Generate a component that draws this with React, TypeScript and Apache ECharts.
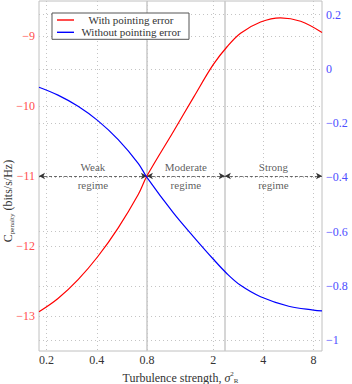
import { useEffect, useRef } from 'react';
import * as echarts from 'echarts';

const redSigma = [0.18, 0.234, 0.309, 0.406, 0.538, 0.711, 0.8, 1.157, 1.53, 2.0, 2.43, 2.92, 3.85, 5.07, 6.7, 9.0];
const redValues = [-12.94, -12.75, -12.48, -12.15, -11.74, -11.26, -11.0, -10.36, -9.87, -9.41, -9.15, -8.96, -8.8, -8.74, -8.79, -8.95];
const blueSigma = [0.18, 0.234, 0.309, 0.406, 0.538, 0.711, 0.8, 1.157, 1.53, 2.0, 2.43, 2.92, 3.85, 5.68, 8.0, 9.0];
const blueValues = [-0.068, -0.097, -0.138, -0.191, -0.261, -0.349, -0.4, -0.532, -0.62, -0.701, -0.756, -0.798, -0.84, -0.875, -0.889, -0.892];

const xTicks = [0.2, 0.4, 0.8, 2, 4, 8];
const leftTicks = [-13, -12, -11, -10, -9];
const rightTicks = [-1, -0.8, -0.6, -0.4, -0.2, 0, 0.2];
const regimeBounds = [0.18, 0.8, 2.35, 9];
const regimeNames = ['Weak', 'Moderate', 'Strong'];
const arrowLevel = -11;

const FONT = 'Liberation Serif';

const fmtNum = (v: number) => {
  const n = Number(v.toFixed(3));
  return (n < 0 ? '\u2212' : '') + String(Math.abs(n));
};

export default function App() {
  const ref = useRef<HTMLDivElement>(null);
  useEffect(() => {
    const chart = echarts.init(ref.current!, null, { renderer: 'svg' });
    const dotted = { show: true, lineStyle: { color: '#c4c4c4', width: 1, type: [1, 3] as any } };
    const option: any = {
      animation: false,
      textStyle: { fontFamily: FONT },
      grid: {
        left: 39,
        right: 30,
        top: 1,
        bottom: 33,
        show: true,
        borderColor: '#c0c0c0',
        borderWidth: 1,
        containLabel: false,
        outerBoundsMode: 'none',
      },
      legend: {
        left: 52,
        top: 13,
        orient: 'vertical',
        icon: 'rect',
        itemWidth: 17,
        itemHeight: 1.4,
        itemGap: 1.3,
        padding: [1.5, 6, 1.5, 5],
        borderColor: '#555',
        borderWidth: 1,
        backgroundColor: '#fff',
        formatter: (n: string) => `{a|${n}}`,
        textStyle: {
          fontFamily: FONT,
          fontSize: 11,
          color: '#333',
          rich: { a: { width: 104, align: 'center', fontSize: 11, fontFamily: FONT, lineHeight: 13, color: '#333' } },
        },
        data: ['With pointing error', 'Without pointing error'],
      },
      xAxis: [
        { type: 'log', logBase: 2, min: 0.18, max: 9, position: 'top', show: false },
        {
          type: 'value',
          min: Math.log2(0.18),
          max: Math.log2(9),
          position: 'bottom',
          axisLine: { show: false },
          axisTick: { show: false, customValues: xTicks.map(Math.log2) },
          axisLabel: {
            customValues: xTicks.map(Math.log2),
            formatter: (v: number) => String(Number(Math.pow(2, v).toPrecision(3))),
            color: '#333',
            fontSize: 12,
            fontFamily: FONT,
            margin: 3,
          },
          splitLine: dotted,
          name: 'Turbulence strength, {s|\u03c3}{sup|2}{sub|R}',
          nameLocation: 'middle',
          nameGap: 11,
          nameTextStyle: {
            fontFamily: FONT,
            fontSize: 12,
            color: '#333',
            rich: {
              s: { fontFamily: FONT, fontSize: 12, color: '#333', fontStyle: 'italic' },
              sup: { fontFamily: FONT, fontSize: 7, color: '#333', verticalAlign: 'top', lineHeight: 14 },
              sub: { fontFamily: FONT, fontSize: 7, color: '#333', verticalAlign: 'bottom', lineHeight: 14 },
            },
          },
        },
      ],
      yAxis: [
        {
          type: 'value',
          min: -13.5,
          max: -8.5,
          position: 'left',
          axisLine: { show: false },
          axisTick: { show: false, customValues: leftTicks },
          axisLabel: { customValues: leftTicks, formatter: fmtNum, color: '#ff4d4d', fontSize: 12, fontFamily: FONT, margin: 4 },
          splitLine: dotted,
        },
        {
          type: 'value',
          min: -1.04,
          max: 0.25,
          position: 'right',
          axisLine: { show: false },
          axisTick: { show: false, customValues: rightTicks },
          axisLabel: { customValues: rightTicks, formatter: fmtNum, color: '#4d4dff', fontSize: 12, fontFamily: FONT, margin: 4 },
          splitLine: dotted,
        },
      ],
      graphic: [
        {
          type: 'text',
          x: 8,
          y: 201,
          rotation: Math.PI / 2,
          style: {
            text: '{c|C}{s|penalty} (bits/s/Hz)',
            align: 'center',
            verticalAlign: 'middle',
            fontFamily: FONT,
            fontSize: 12,
            fill: '#333',
            rich: {
              c: { fontFamily: FONT, fontSize: 12, fill: '#333', lineHeight: 14 } as any,
              s: { fontFamily: FONT, fontSize: 7, fill: '#333', verticalAlign: 'bottom', lineHeight: 14 } as any,
            },
          },
        },
      ],
      series: [
        {
          name: 'With pointing error',
          type: 'line',
          xAxisIndex: 0,
          yAxisIndex: 0,
          data: redSigma.map((s, i) => [s, redValues[i]]),
          symbol: 'none',
          smooth: 0.35,
          color: '#ff0000',
          lineStyle: { color: '#ff0000', width: 1.2 },
          z: 5,
          markLine: {
            silent: true,
            symbol: ['arrow', 'arrow'],
            symbolSize: [5, 6],
            lineStyle: { type: [3, 2], color: '#333', width: 0.7 },
            label: { show: false },
            emphasis: { disabled: true },
            data: regimeNames.map((_, i) => [
              { coord: [regimeBounds[i], arrowLevel] },
              { coord: [regimeBounds[i + 1], arrowLevel] },
            ]),
          },
        },
        {
          name: 'Without pointing error',
          type: 'line',
          xAxisIndex: 0,
          yAxisIndex: 1,
          data: blueSigma.map((s, i) => [s, blueValues[i]]),
          symbol: 'none',
          smooth: 0.35,
          color: '#0000ff',
          lineStyle: { color: '#0000ff', width: 1.2 },
          z: 5,
          markLine: {
            silent: true,
            symbol: 'none',
            lineStyle: { type: 'solid', color: '#c8c8c8', width: 1.5 },
            label: { show: false },
            emphasis: { disabled: true },
            z: 1,
            data: [{ xAxis: regimeBounds[1] }, { xAxis: regimeBounds[2] }],
          },
        },
        {
          type: 'scatter',
          xAxisIndex: 0,
          yAxisIndex: 0,
          symbolSize: 0,
          silent: true,
          data: regimeNames.map((n, i) => [Math.sqrt(regimeBounds[i] * regimeBounds[i + 1]), arrowLevel, n]),
          label: {
            show: true,
            position: 'inside',
            formatter: (p: any) => `${p.value[2]}\nregime`,
            fontFamily: FONT,
            fontSize: 11,
            lineHeight: 18,
            color: '#333',
          },
        },
      ],
    };
    chart.setOption(option);
    return () => chart.dispose();
  }, []);
  return <div ref={ref} style={{ position: 'absolute', left: 0, top: 0, width: 352, height: 384 }} />;
}
